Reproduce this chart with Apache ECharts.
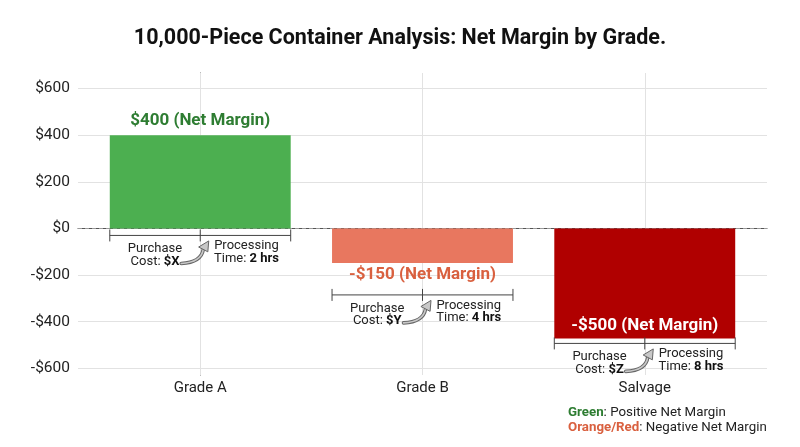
<!DOCTYPE html>
<html>
<head>
<meta charset="utf-8">
<script src="https://cdn.jsdelivr.net/npm/echarts@6/dist/echarts.min.js"></script>
<style>html,body{margin:0;padding:0;background:#fff}#c{width:800px;height:447px}</style>
</head>
<body>
<div id="c"></div>
<script>
const categories = ['Grade A', 'Grade B', 'Salvage'];
const netMargin = [400, -148, -472];
const marginLabels = ['$400 (Net Margin)', '-$150 (Net Margin)', '-$500 (Net Margin)'];
const purchaseCost = ['$X', '$Y', '$Z'];
const processingTime = ['2 hrs', '4 hrs', '8 hrs'];
const yTicks = [-600, -400, -200, 0, 200, 400, 600];
const gridTicks = [-600, -400, -200, 200, 400, 600];
const barColors = ['#4CAF50', '#E8775F', '#B00000'];
const labelColors = ['#2E7D32', '#D9603F', '#FFFFFF'];

const FONT = 'Roboto, "Liberation Sans", sans-serif';
const chart = echarts.init(document.getElementById('c'), null, {renderer: 'canvas'});

function renderItem(params, api) {
  const i = api.value(0);
  const v = api.value(1);
  const p0 = api.coord([i, 0]);
  const p1 = api.coord([i, v]);
  const xc = p0[0];
  const half = api.size([0.814, 0])[0] / 2;
  const xl = xc - half, xr = xc + half;
  const top = Math.min(p0[1], p1[1]);
  const h = Math.abs(p1[1] - p0[1]);
  const children = [];
  children.push({type: 'rect', shape: {x: xl, y: top, width: 2 * half, height: h}, style: {fill: barColors[i]}});
  let labelY, by;
  if (v > 0) {
    labelY = p1[1] - 14;
    by = p0[1] + 7;
  } else if (h < 60) {
    labelY = p1[1] + 12;
    by = labelY + 20;
  } else {
    labelY = p1[1] - 13;
    by = p1[1] + 5;
  }
  children.push({type: 'text', style: {x: xc, y: labelY, text: marginLabels[i], fill: labelColors[i], font: 'bold 17px ' + FONT, align: 'center', verticalAlign: 'middle'}});
  const lc = {stroke: '#444', lineWidth: 1};
  children.push({type: 'line', shape: {x1: xl, y1: by, x2: xr, y2: by}, style: lc});
  [xl, xc, xr].forEach(x => children.push({type: 'line', shape: {x1: x, y1: by - 6, x2: x, y2: by + 6}, style: lc}));
  children.push({type: 'text', style: {x: (xl + xc) / 2, y: by + 20, text: 'Purchase\nCost: {b|' + purchaseCost[i] + '}', fill: '#222', font: '13px ' + FONT, lineHeight: 12.5, align: 'center', verticalAlign: 'middle', rich: {b: {font: 'bold 13px ' + FONT, fill: '#111', lineHeight: 12.5}}}});
  children.push({type: 'text', style: {x: (xc + xr) / 2 + 1, y: by + 17, text: 'Processing\nTime: {b|' + processingTime[i] + '}', fill: '#222', font: '13px ' + FONT, lineHeight: 12.5, align: 'center', verticalAlign: 'middle', rich: {b: {font: 'bold 13px ' + FONT, fill: '#111', lineHeight: 12.5}}}});
  // curved arrow
  const tx = xc - 19, ty = by + 28;
  const bx = xc + 3, bY = by + 14;
  const pd = 'M' + tx + ' ' + ty + ' Q' + (xc + 1) + ' ' + (by + 27) + ' ' + bx + ' ' + bY;
  children.push({type: 'path', shape: {pathData: pd}, style: {stroke: '#666', lineWidth: 3.6, fill: 'none', lineCap: 'round'}});
  children.push({type: 'path', shape: {pathData: pd}, style: {stroke: '#c8c8c8', lineWidth: 1.6, fill: 'none', lineCap: 'round'}});
  children.push({type: 'polygon', shape: {points: [[xc + 8.5, by + 5.5], [xc + 7.6, by + 16.4], [xc - 1.6, by + 11.6]]}, style: {fill: '#c8c8c8', stroke: '#666', lineWidth: 1}});
  return {type: 'group', children: children};
}

const option = {
  animation: false,
  backgroundColor: '#fff',
  textStyle: {fontFamily: FONT},
  title: {
    text: '10,000-Piece Container Analysis: Net Margin by Grade.',
    left: 'center', top: 23,
    textStyle: {fontFamily: FONT, fontSize: 21.5, fontWeight: 'bold', color: '#111'}
  },
  grid: {left: 78, right: 33, top: 73, bottom: 72},
  xAxis: {
    type: 'value', min: -0.55, max: 2.55,
    splitLine: {show: false},
    axisLine: {show: true, lineStyle: {color: '#555', width: 1}},
    axisTick: {show: false},
    axisLabel: {customValues: [0, 1, 2], formatter: v => categories[Math.round(v)], fontSize: 15, color: '#222', margin: 6, fontFamily: FONT}
  },
  yAxis: {
    type: 'value', min: -629, max: 667,
    splitLine: {show: false},
    axisLine: {show: true, lineStyle: {color: '#555', width: 1}},
    axisTick: {show: false},
    axisLabel: {customValues: yTicks, formatter: v => (v < 0 ? '-' : '') + '$' + Math.abs(v), fontSize: 15.5, color: '#222', margin: 8, fontFamily: FONT}
  },
  graphic: [{
    type: 'text', left: 568, top: 405,
    style: {
      text: '{g|Green}: Positive Net Margin\n{o|Orange/Red}: Negative Net Margin',
      font: '13.3px ' + FONT, fill: '#222', lineHeight: 15,
      rich: {g: {font: 'bold 13.3px ' + FONT, fill: '#2E7D32', lineHeight: 15}, o: {font: 'bold 13.3px ' + FONT, fill: '#D9603F', lineHeight: 15}}
    }
  }],
  series: [
    {
      type: 'line', data: [], z: 1, silent: true,
      markLine: {
        silent: true, symbol: 'none', label: {show: false}, animation: false, z: 1,
        data: gridTicks.map(t => ({yAxis: t, lineStyle: {color: '#e2e2e2', width: 1, type: 'solid'}}))
          .concat(categories.map((c, k) => ({xAxis: k, lineStyle: {color: '#e2e2e2', width: 1, type: 'solid'}})))
          .concat([{yAxis: 0, lineStyle: {color: '#999', width: 1, type: [4, 3]}}])
      }
    },
    {
      type: 'custom', z: 10,
      renderItem: renderItem,
      data: netMargin.map((v, i) => [i, v]),
      clip: false
    }
  ]
};
chart.setOption(option);
</script>
</body>
</html>
